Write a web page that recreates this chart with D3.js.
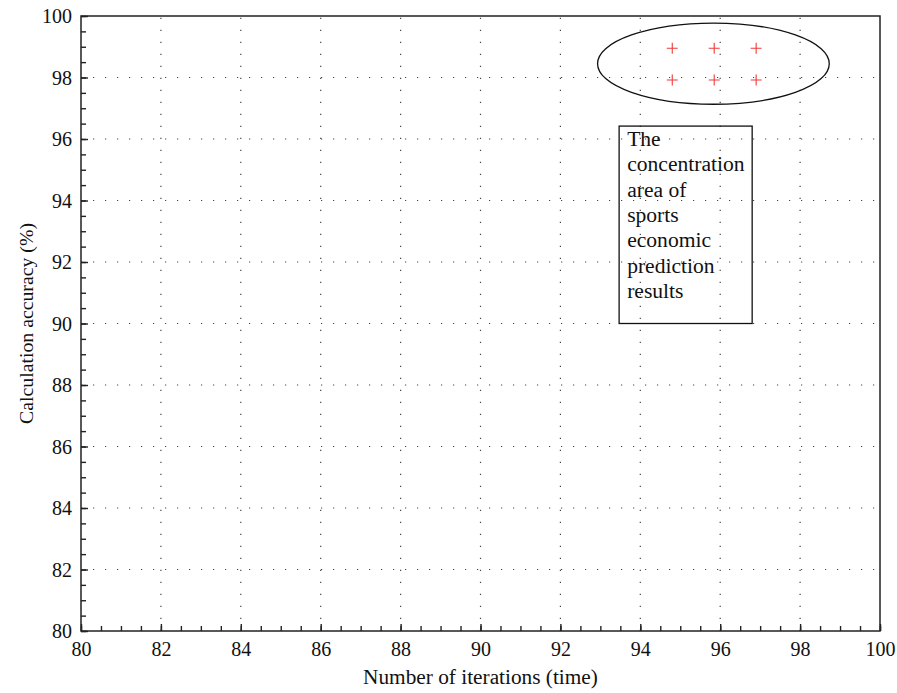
<!DOCTYPE html>
<html>
<head>
<meta charset="utf-8">
<script src="https://cdn.jsdelivr.net/npm/d3@7"></script>
<style>
  body { margin: 0; background: #fff; }
  svg text { font-family: "Liberation Serif", "Times New Roman", "DejaVu Serif", serif !important; fill: #111; }
</style>
</head>
<body>
<svg id="chart" width="897" height="693"></svg>
<script>
/* global d3 */

// data
const xTicks= [80, 82, 84, 86, 88, 90, 92, 94, 96, 98, 100];
const yTicks= [80, 82, 84, 86, 88, 90, 92, 94, 96, 98, 100];
const pointX= [94.8, 95.85, 96.9, 94.8, 95.85, 96.9];
const pointY= [98.95, 98.95, 98.95, 97.92, 97.92, 97.92];
const ellipse= { cx: 95.83, cy: 98.45, rx: 2.9, ry: 1.32 };
const noteBox= { x0: 93.47, x1: 96.8, y0: 96.42, y1: 90.0 };
const noteLines= ['The', 'concentration', 'area of', 'sports', 'economic', 'prediction', 'results'];

const W= 897, H= 693;
const m= { left: 81, right: 17, top: 16, bottom: 62 };
const FONT= '"Liberation Serif", "Times New Roman", serif';
const svg= d3.select('#chart');

const x= d3.scaleLinear().domain([80, 100]).range([m.left, W-m.right]);
const y= d3.scaleLinear().domain([80, 100]).range([H-m.bottom, m.top]);

// dotted grid
const grid= svg.append('g').attr('stroke', '#444').attr('stroke-width', 1.2)
  .attr('stroke-dasharray', '1.2,10.8');
grid.selectAll('.gx').data(xTicks.slice(1, -1)).join('line')
  .attr('x1', d => x(d)).attr('x2', d => x(d))
  .attr('y1', y(80)).attr('y2', y(100));
grid.selectAll('.gy').data(yTicks.slice(1, -1)).join('line')
  .attr('y1', d => y(d)).attr('y2', d => y(d))
  .attr('x1', x(80)).attr('x2', x(100));

// frame
svg.append('rect')
  .attr('x', x(80)).attr('y', y(100))
  .attr('width', x(100)-x(80)).attr('height', y(80)-y(100))
  .attr('fill', 'none').attr('stroke', '#222').attr('stroke-width', 1.5);

// axes, ticks pointing inside
const xMinor= d3.range(80, 100.01, 0.5);
const yMinor= d3.range(80, 100.01, 0.5);

const xAxis= svg.append('g').attr('transform', `translate(0,${y(80)})`)
  .call(d3.axisBottom(x).tickValues(xMinor).tickSize(-5).tickFormat(''));
xAxis.select('.domain').remove();
xAxis.selectAll('line').attr('stroke', '#222').attr('stroke-width', 1.4);
const xAxisMajor= svg.append('g').attr('transform', `translate(0,${y(80)})`)
  .call(d3.axisBottom(x).tickValues(xTicks).tickSize(-7).tickPadding(13));
xAxisMajor.select('.domain').remove();
xAxisMajor.selectAll('line').attr('stroke', '#222').attr('stroke-width', 1.4);
xAxisMajor.selectAll('text').attr('dy', '0.6em');

const yAxis= svg.append('g').attr('transform', `translate(${x(80)},0)`)
  .call(d3.axisLeft(y).tickValues(yMinor).tickSize(-5).tickFormat(''));
yAxis.select('.domain').remove();
yAxis.selectAll('line').attr('stroke', '#222').attr('stroke-width', 1.4);
const yAxisMajor= svg.append('g').attr('transform', `translate(${x(80)},0)`)
  .call(d3.axisLeft(y).tickValues(yTicks).tickSize(-7).tickPadding(9));
yAxisMajor.select('.domain').remove();
yAxisMajor.selectAll('line').attr('stroke', '#222').attr('stroke-width', 1.4);
yAxisMajor.selectAll('text').attr('dy', '0.33em');

[xAxisMajor, yAxisMajor].forEach(g => g.attr('font-family', FONT).attr('font-size', 20));

// ellipse around the cluster
svg.append('ellipse')
  .attr('cx', x(ellipse.cx)).attr('cy', y(ellipse.cy))
  .attr('rx', x(80+ellipse.rx)-x(80)).attr('ry', y(80)-y(80+ellipse.ry))
  .attr('fill', 'none').attr('stroke', '#111').attr('stroke-width', 1.3);

// red plus markers
const pts= pointX.map((v, i) => ({ x: v, y: pointY[i] }));
svg.append('g').selectAll('path').data(pts).join('path')
  .attr('d', d => `M${x(d.x)-5.5},${y(d.y)}h11M${x(d.x)},${y(d.y)-5.5}v11`)
  .attr('stroke', '#f03a3a').attr('stroke-width', 1.1).attr('fill', 'none');

// annotation box
svg.append('rect')
  .attr('x', x(noteBox.x0)).attr('y', y(noteBox.y0))
  .attr('width', x(noteBox.x1)-x(noteBox.x0)).attr('height', y(noteBox.y1)-y(noteBox.y0))
  .attr('fill', 'none').attr('stroke', '#111').attr('stroke-width', 1.3);
svg.append('text')
  .attr('font-family', FONT).attr('font-size', 21.6)
  .selectAll('tspan').data(noteLines).join('tspan')
  .attr('x', x(noteBox.x0)+8)
  .attr('y', (d, i) => y(noteBox.y0)+20+i*25.3)
  .text(d => d);

// axis titles
svg.append('text')
  .attr('x', (x(80)+x(100))/2).attr('y', 684)
  .attr('text-anchor', 'middle').attr('font-family', FONT).attr('font-size', 21.3)
  .text('Number of iterations (time)');
svg.append('text')
  .attr('transform', `translate(33,${(y(80)+y(100))/2}) rotate(-90)`)
  .attr('text-anchor', 'middle').attr('font-family', FONT).attr('font-size', 19.8)
  .text('Calculation accuracy (%)');
</script>
</body>
</html>
